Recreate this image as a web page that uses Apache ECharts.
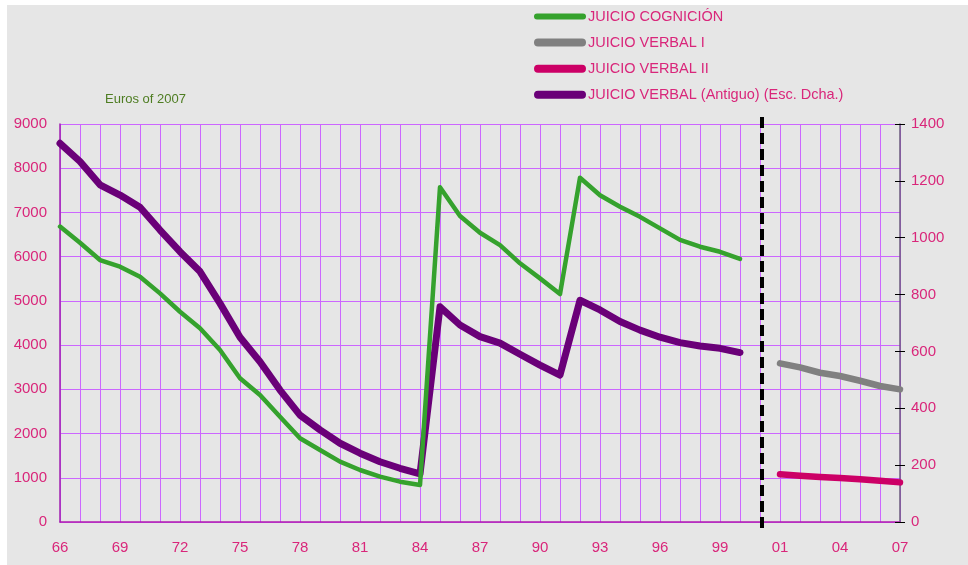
<!DOCTYPE html>
<html>
<head>
<meta charset="utf-8">
<script src="https://cdn.jsdelivr.net/npm/echarts@6/dist/echarts.min.js"></script>
<style>
html,body{margin:0;padding:0;background:#fff;}
#c{width:968px;height:565px;background:linear-gradient(#e6e6e6,#e6e6e6) 7px 5px / 961px 560px no-repeat,#fff;}
</style>
</head>
<body>
<div id="c"></div>
<script>
// Categories: 1966..2000, a gap slot, 2001..2007
const yearsA = ['66','67','68','69','70','71','72','73','74','75','76','77','78','79','80','81','82','83','84','85','86','87','88','89','90','91','92','93','94','95','96','97','98','99','00'];
const gapSlot = [''];
const yearsB = ['01','02','03','04','05','06','07'];
const categories = yearsA.concat(gapSlot, yearsB);

// JUICIO COGNICIÓN (left axis), 1966-2000
const cognicion = [6680,6316,5924,5773,5547,5170,4755,4380,3889,3250,2871,2381,1893,1628,1364,1176,1025,912,837,
                   7570,6920,6540,6260,5850,5510,5155,7785,7390,7130,6900,6640,6380,6225,6110,5950];
// JUICIO VERBAL (Antiguo) (right axis), 1966-2000
const verbalAntiguo = [1332,1268,1186,1150,1107,1027,951,881,769,650,564,464,376,324,277,242,212,189,169,
                       757,693,652,629,590,552,517,780,746,705,675,650,631,619,611,596];
// JUICIO VERBAL I (left axis), 2001-2007
const verbalI = [3588,3497,3375,3301,3194,3075,2999];
// JUICIO VERBAL II (left axis), 2001-2007
const verbalII = [1078,1047,1017,995,965,933,896];

const leftTicks = {min:0, max:9000, interval:1000};
const rightTicks = {min:0, max:1400, interval:200};

const nA = yearsA.length, nGap = gapSlot.length;
const padEnd = arr => arr.concat(new Array(categories.length - arr.length).fill(null));
const padStart = arr => new Array(nA + nGap).fill(null).concat(arr);

const labelColor = '#d9267a';
const gridColor = '#cc66ff';
const plain = v => String(v);
// rounded bar icons for the legend (thin line look)
const barIconThick = 'path://M4,0 L48,0 A4,4 0 0 1 48,8 L4,8 A4,4 0 0 1 4,0 Z';
const barIconThin = 'path://M3,0 L49,0 A3,3 0 0 1 49,6 L3,6 A3,3 0 0 1 3,0 Z';

const chart = echarts.init(document.getElementById('c'), null, {renderer:'canvas'});
const lineBase = {type:'line', symbol:'none', smooth:false, connectNulls:false};

chart.setOption({
  animation:false,
  textStyle:{fontFamily:'Liberation Sans, Arial, sans-serif'},
  title:{text:'Euros of 2007', left:100, top:88,
    textStyle:{color:'#4e7d22', fontSize:13, fontWeight:'normal', fontFamily:'Liberation Sans, Arial, sans-serif'}},
  legend:{orient:'vertical', left:534, top:9, padding:0, itemWidth:52, itemHeight:14, itemGap:11.1,
    textStyle:{color:labelColor, fontSize:14.5, padding:[0,0,0,-3]},
    data:[
      {name:'JUICIO COGNICIÓN', icon:barIconThin, itemStyle:{color:'#35a22d'}},
      {name:'JUICIO VERBAL I', icon:barIconThick, itemStyle:{color:'#808080'}},
      {name:'JUICIO VERBAL II', icon:barIconThick, itemStyle:{color:'#cc0066'}},
      {name:'JUICIO VERBAL (Antiguo) (Esc. Dcha.)', icon:barIconThick, itemStyle:{color:'#6a0078'}}
    ]},
  grid:{left:60, right:68, top:124, bottom:43, containLabel:false},
  xAxis:{type:'category', data:categories, boundaryGap:false,
    axisLine:{lineStyle:{color:'#b01cb0', width:1.5}},
    axisTick:{show:false},
    axisLabel:{interval:2, color:labelColor, fontSize:15, margin:18},
    splitLine:{show:true, interval:0, lineStyle:{color:gridColor, width:1}}
  },
  yAxis:[
    {type:'value', position:'left', min:leftTicks.min, max:leftTicks.max, interval:leftTicks.interval,
      axisLine:{show:true, lineStyle:{color:'#a020b0', width:1.5}},
      axisTick:{show:false},
      axisLabel:{color:labelColor, fontSize:15, margin:13, formatter:plain},
      splitLine:{show:true, lineStyle:{color:gridColor, width:1}}},
    {type:'value', position:'right', min:rightTicks.min, max:rightTicks.max, interval:rightTicks.interval,
      axisLine:{show:true, lineStyle:{color:'#6b5a7e', width:1.5}},
      axisTick:{show:true, length:5, lineStyle:{color:'#000', width:1}},
      axisLabel:{color:labelColor, fontSize:15, margin:11, formatter:plain},
      splitLine:{show:false}},
    {type:'value', position:'right', min:rightTicks.min, max:rightTicks.max, interval:rightTicks.interval,
      axisLine:{show:false},
      axisTick:{show:true, inside:true, length:5, lineStyle:{color:'#000', width:1}},
      axisLabel:{show:false},
      splitLine:{show:false}}
  ],
  series:[
    Object.assign({}, lineBase, {name:'JUICIO COGNICIÓN', yAxisIndex:0, data:padEnd(cognicion),
      itemStyle:{color:'#35a22d'}, lineStyle:{color:'#35a22d', width:4.5, cap:'round', join:'round'}, z:3}),
    Object.assign({}, lineBase, {name:'JUICIO VERBAL I', yAxisIndex:0, data:padStart(verbalI),
      itemStyle:{color:'#808080'}, lineStyle:{color:'#808080', width:6.5, cap:'round', join:'round'}}),
    Object.assign({}, lineBase, {name:'JUICIO VERBAL II', yAxisIndex:0, data:padStart(verbalII),
      itemStyle:{color:'#cc0066'}, lineStyle:{color:'#cc0066', width:6.5, cap:'round', join:'round'}}),
    Object.assign({}, lineBase, {name:'JUICIO VERBAL (Antiguo) (Esc. Dcha.)', yAxisIndex:1, data:padEnd(verbalAntiguo),
      itemStyle:{color:'#6a0078'}, lineStyle:{color:'#6a0078', width:7, cap:'round', join:'round'}, z:2})
  ]
});

// dashed separator at the gap slot, positioned via the axis scale
const gapIdx = nA;
const pTop = chart.convertToPixel({xAxisIndex:0, yAxisIndex:0}, [gapIdx, leftTicks.max]);
const pBot = chart.convertToPixel({xAxisIndex:0, yAxisIndex:0}, [gapIdx, leftTicks.min]);
chart.setOption({graphic:[{type:'line', silent:true, z:10,
  shape:{x1:pTop[0]+2, y1:pTop[1]-7, x2:pBot[0]+2, y2:pBot[1]+11},
  style:{stroke:'#000', lineWidth:4, lineDash:[11,5]}}]});
</script>
</body>
</html>
